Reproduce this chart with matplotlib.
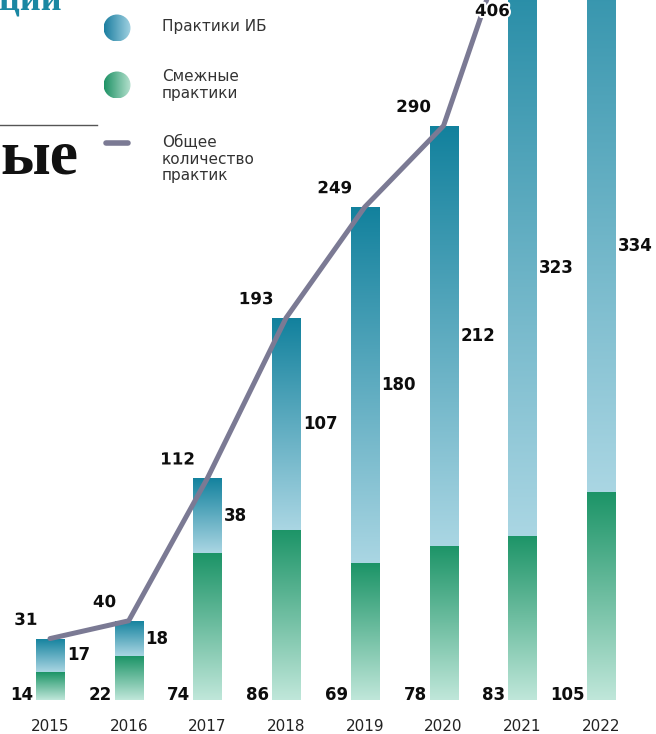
import numpy as np
import matplotlib.pyplot as plt
import matplotlib.patheffects as pe
from matplotlib.colors import LinearSegmentedColormap
from matplotlib.patches import Circle

plt.rcParams['font.family'] = ['DejaVu Sans']

# данные
years = ['2015', '2016', '2017', '2018', '2019', '2020', '2021', '2022']
ib_practices = [17, 18, 38, 107, 180, 212, 323, 334]
related_practices = [14, 22, 74, 86, 69, 78, 83, 105]
total_practices = [a + b for a, b in zip(ib_practices, related_practices)]
# подписи общего количества, видимые на картинке (2022 — за краем)
total_labels = ['31', '40', '112', '193', '249', '290', '406', '']

# цвета
blue_cmap = LinearSegmentedColormap.from_list('blue', ['#aad6e3', '#12819d'])
green_cmap = LinearSegmentedColormap.from_list('green', ['#c0e7da', '#1c9467'])
blue_cmap_h = LinearSegmentedColormap.from_list('blue_h', ['#1b7ea0', '#a2d2e2'])
green_cmap_h = LinearSegmentedColormap.from_list('green_h', ['#1e9265', '#b6e1cf'])
line_color = '#7b7a94'
text_color = '#0d0d0d'

fig = plt.figure(figsize=(6.56, 7.34), dpi=100)
ax = fig.add_axes([0, 34 / 734, 1, 700 / 734])

x = np.arange(len(years))
w = 0.356
ymax = 353.5
xlim = (-0.635, 7.699)


def gradient_bars(xs, bottoms, heights, cmap):
    bars = ax.bar(xs, heights, width=w, bottom=bottoms, color='none', edgecolor='none', zorder=2)
    grad = np.linspace(0, 1, 256)[:, None]
    for b in bars:
        x0, y0 = b.get_x(), b.get_y()
        im = ax.imshow(grad, cmap=cmap, origin='lower', aspect='auto',
                       extent=[x0, x0 + b.get_width(), y0, y0 + b.get_height()], zorder=2)
        im.set_clip_path(b)
    return bars


gradient_bars(x, 0, related_practices, green_cmap)
gradient_bars(x, related_practices, ib_practices, blue_cmap)

# линия общего количества
ax.plot(x, total_practices, color=line_color, lw=3.6, solid_joinstyle='round',
        solid_capstyle='round', zorder=4)

ax.set_xlim(*xlim)
ax.set_ylim(0, ymax)

lbl = dict(fontsize=12, fontweight='bold', color=text_color)
for xi, ib, rel, tot, tl in zip(x, ib_practices, related_practices, total_practices, total_labels):
    # общее — над столбцом слева (у верхнего края, если столбец выходит за него)
    if tl:
        ty = min(tot, ymax - 15)
        ax.annotate(tl, (xi - w / 2, ty), xytext=(1, 7), textcoords='offset points',
                    ha='right', va='bottom', zorder=6,
                    path_effects=[pe.withStroke(linewidth=3, foreground='white')], **lbl)
    # практики ИБ — справа посередине синего сегмента
    my = (rel + min(tot, ymax)) / 2
    ax.annotate(str(ib), (xi + w / 2, my), xytext=(2, 0), textcoords='offset points',
                ha='left', va='center', zorder=6, **lbl)
    # смежные — слева у основания
    ax.annotate(str(rel), (xi - w / 2, 0), xytext=(-2, 0), textcoords='offset points',
                ha='right', va='baseline', zorder=6, **lbl)

ax.set_xticks(x, years)
ax.tick_params(axis='x', length=0, pad=14, labelsize=11, labelcolor='#222222')
ax.set_yticks([])
for s in ax.spines.values():
    s.set_visible(False)
ax.patch.set_alpha(0)

# легенда и фрагменты заголовка (в пикселях)
lax = fig.add_axes([0, 0, 1, 1], zorder=-1)
lax.axis('off')


def grad_circle(cx, cy, r, cmap):
    c = Circle((cx, cy), r, facecolor='none', edgecolor='none')
    lax.add_patch(c)
    im = lax.imshow(np.linspace(0, 1, 128)[None, :], cmap=cmap, aspect='auto',
                    extent=[cx - r, cx + r, cy + r, cy - r])
    im.set_clip_path(c)


grad_circle(117, 28, 13.5, blue_cmap_h)
grad_circle(117, 85, 13.5, green_cmap_h)
lax.plot([106, 128], [143, 143], color=line_color, lw=4, solid_capstyle='round')

leg = dict(fontsize=11, color='#333333', va='center', ha='left', linespacing=1.1)
lax.text(162, 27, 'Практики ИБ', **leg)
lax.text(162, 85, 'Смежные\nпрактики', **leg)
lax.text(162, 159, 'Общее\nколичество\nпрактик', **leg)

lax.plot([0, 97], [125, 125], color='#555555', lw=1)
lax.text(-1, 9, 'ции', fontsize=26, fontweight='bold', color='#1a87a2',
         family='Liberation Serif', va='baseline')
lax.text(0, 173, 'ые', fontsize=46, fontweight='bold', color='#111111',
         family='Liberation Serif', va='baseline')

lax.set_xlim(0, 656)
lax.set_ylim(734, 0)

fig.savefig('out.png', dpi=100)
